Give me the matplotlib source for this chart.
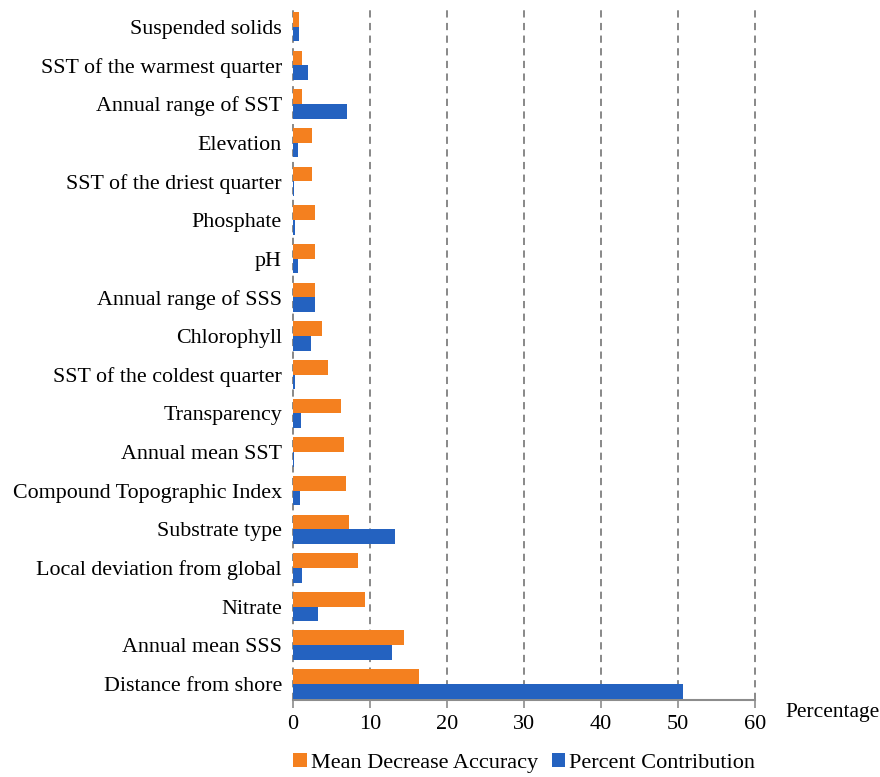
import matplotlib.pyplot as plt
import numpy as np

plt.rcParams['font.family'] = ['Liberation Serif', 'DejaVu Serif']

# variables listed top to bottom
variables = [
    "Suspended solids", "SST of the warmest quarter", "Annual range of SST",
    "Elevation", "SST of the driest quarter", "Phosphate", "pH",
    "Annual range of SSS", "Chlorophyll", "SST of the coldest quarter",
    "Transparency", "Annual mean SST", "Compound Topographic Index",
    "Substrate type", "Local deviation from global", "Nitrate",
    "Annual mean SSS", "Distance from shore",
]
mean_decrease_accuracy = [0.8, 1.1, 1.1, 2.4, 2.4, 2.8, 2.8, 2.8, 3.7, 4.6,
                          6.2, 6.6, 6.9, 7.3, 8.4, 9.3, 14.4, 16.3]
percent_contribution = [0.8, 1.9, 7.0, 0.6, 0.15, 0.25, 0.6, 2.9, 2.3, 0.2,
                        1.0, 0.1, 0.95, 13.2, 1.1, 3.3, 12.8, 50.6]

orange = '#F4801F'
blue = '#2462C0'

fig = plt.figure(figsize=(8.8, 7.77), dpi=100)
ax = fig.add_axes([0.333, 0.099, 0.525, 0.889])

n = len(variables)
y = np.arange(n)[::-1]
h = 0.38
ax.barh(y + h / 2, mean_decrease_accuracy, height=h, color=orange,
        label='Mean Decrease Accuracy', zorder=3)
ax.barh(y - h / 2, percent_contribution, height=h, color=blue,
        label='Percent Contribution', zorder=3)

ax.set_xlim(0, 60)
ax.set_ylim(-0.42, n - 0.55)
ax.set_xticks(range(0, 61, 10))
ax.set_yticks(y)
ax.set_yticklabels(variables)

for x in range(0, 61, 10):
    ax.axvline(x, color='#7f7f7f', linestyle=(0, (4, 3)), linewidth=1.3,
               zorder=1, clip_on=False)

for side in ['top', 'right', 'left']:
    ax.spines[side].set_visible(False)
ax.spines['bottom'].set_color('#8c8c8c')
ax.spines['bottom'].set_linewidth(1.5)
ax.tick_params(axis='x', length=6, width=1.2, color='#8c8c8c', labelsize=16, pad=5)
ax.tick_params(axis='y', length=0, labelsize=15.8, pad=8)

fig.text(0.892, 0.083, 'Percentage', fontsize=15.5, ha='left', va='center')

# legend sits in the strip below the tick labels
fig.legend(loc='lower center', bbox_to_anchor=(0.596, 0.002), ncol=2, frameon=False,
           fontsize=16, handlelength=0.6, handleheight=0.6, handletextpad=0.2,
           columnspacing=0.6, borderaxespad=0, borderpad=0.1)

fig.savefig('out.png', dpi=100)
